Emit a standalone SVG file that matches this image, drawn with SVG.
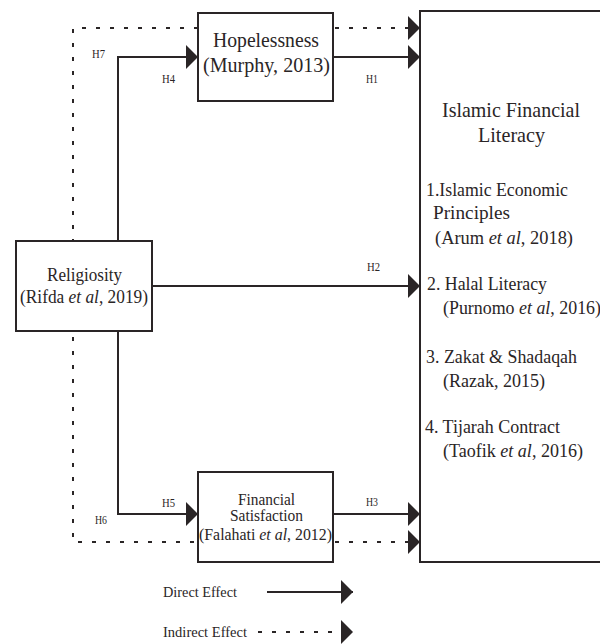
<svg xmlns="http://www.w3.org/2000/svg" width="600" height="644" viewBox="0 0 600 644">
<defs>
<style>
.box{fill:#fff;stroke:#2a2526;stroke-width:2}
.ln{fill:none;stroke:#2a2526;stroke-width:2}
.dot{fill:none;stroke:#2a2526;stroke-width:2;stroke-dasharray:4 10}
text{font-family:'Liberation Serif','DejaVu Serif',serif;fill:#2a2526}
.h{font-size:12px}
</style>
<marker id="arr" viewBox="0 0 12 24" refX="12" refY="12" markerWidth="12" markerHeight="24" markerUnits="userSpaceOnUse" orient="auto">
<path d="M0,0 L12,12 L0,24 Z" fill="#2a2526"/>
</marker>
</defs>
<rect width="600" height="644" fill="#fff"/>

<g id="connectors">
<path class="ln" d="M118,241 V57 H198" marker-end="url(#arr)"/>
<path class="ln" d="M118,331 V514 H198" marker-end="url(#arr)"/>
<path class="ln" d="M152,286 H420" marker-end="url(#arr)"/>
<path class="ln" d="M333,57 H420" marker-end="url(#arr)"/>
<path class="ln" d="M333,514 H420" marker-end="url(#arr)"/>
<path class="dot" d="M198,28 H73 V542 H198"/>
<path class="dot" d="M335,28 H420" marker-end="url(#arr)"/>
<path class="dot" d="M335,542 H420" marker-end="url(#arr)"/>
<text class="h" x="92" y="58" textLength="13" lengthAdjust="spacingAndGlyphs">H7</text>
<text class="h" x="162" y="83" textLength="13" lengthAdjust="spacingAndGlyphs">H4</text>
<text class="h" x="366" y="83" textLength="12" lengthAdjust="spacingAndGlyphs">H1</text>
<text class="h" x="367" y="271" textLength="13" lengthAdjust="spacingAndGlyphs">H2</text>
<text class="h" x="162" y="507" textLength="13" lengthAdjust="spacingAndGlyphs">H5</text>
<text class="h" x="95" y="524" textLength="12" lengthAdjust="spacingAndGlyphs">H6</text>
<text class="h" x="366" y="506" textLength="12" lengthAdjust="spacingAndGlyphs">H3</text>
</g>

<g id="hopelessness">
<rect class="box" x="198" y="13" width="135" height="88"/>
<text x="213" y="47" font-size="21" textLength="106" lengthAdjust="spacingAndGlyphs">Hopelessness</text>
<text x="203" y="72" font-size="21" textLength="127" lengthAdjust="spacingAndGlyphs">(Murphy, 2013)</text>
</g>

<g id="religiosity">
<rect class="box" x="16" y="241" width="136" height="90"/>
<text x="47" y="281" font-size="19" textLength="75" lengthAdjust="spacingAndGlyphs">Religiosity</text>
<text x="20" y="303" font-size="19" textLength="128" lengthAdjust="spacingAndGlyphs">(Rifda <tspan font-style="italic">et al</tspan>, 2019)</text>
</g>

<g id="financial-satisfaction">
<rect class="box" x="198" y="472" width="135" height="90"/>
<text x="238" y="505" font-size="16" textLength="57" lengthAdjust="spacingAndGlyphs">Financial</text>
<text x="230" y="521" font-size="16" textLength="73" lengthAdjust="spacingAndGlyphs">Satisfaction</text>
<text x="199" y="540" font-size="16" textLength="133" lengthAdjust="spacingAndGlyphs">(Falahati <tspan font-style="italic">et al</tspan>, 2012)</text>
</g>

<g id="islamic-financial-literacy">
<rect class="box" x="420" y="11" width="200" height="551"/>
<text x="442" y="117" font-size="22" textLength="138" lengthAdjust="spacingAndGlyphs">Islamic Financial</text>
<text x="478" y="142" font-size="22" textLength="67" lengthAdjust="spacingAndGlyphs">Literacy</text>
<text x="426" y="196" font-size="19" textLength="142" lengthAdjust="spacingAndGlyphs">1.Islamic Economic</text>
<text x="433" y="219" font-size="19" textLength="77" lengthAdjust="spacingAndGlyphs">Principles</text>
<text x="435" y="244" font-size="19" textLength="138" lengthAdjust="spacingAndGlyphs">(Arum <tspan font-style="italic">et al</tspan>, 2018)</text>
<text x="427" y="290" font-size="19" textLength="120" lengthAdjust="spacingAndGlyphs">2. Halal Literacy</text>
<text x="443" y="314" font-size="19" textLength="158" lengthAdjust="spacingAndGlyphs">(Purnomo <tspan font-style="italic">et al</tspan>, 2016)</text>
<text x="426" y="363" font-size="19" textLength="151" lengthAdjust="spacingAndGlyphs">3. Zakat &amp; Shadaqah</text>
<text x="443" y="387" font-size="19" textLength="102" lengthAdjust="spacingAndGlyphs">(Razak, 2015)</text>
<text x="425" y="433" font-size="19" textLength="135" lengthAdjust="spacingAndGlyphs">4. Tijarah Contract</text>
<text x="443" y="457" font-size="19" textLength="140" lengthAdjust="spacingAndGlyphs">(Taofik <tspan font-style="italic">et al</tspan>, 2016)</text>
</g>

<g id="legend">
<text x="163" y="597" font-size="15" textLength="74" lengthAdjust="spacingAndGlyphs">Direct Effect</text>
<path class="ln" d="M267,592 H353" marker-end="url(#arr)"/>
<text x="163" y="637" font-size="15" textLength="84" lengthAdjust="spacingAndGlyphs">Indirect Effect</text>
<path class="dot" d="M258,632 H353" marker-end="url(#arr)"/>
</g>
</svg>
